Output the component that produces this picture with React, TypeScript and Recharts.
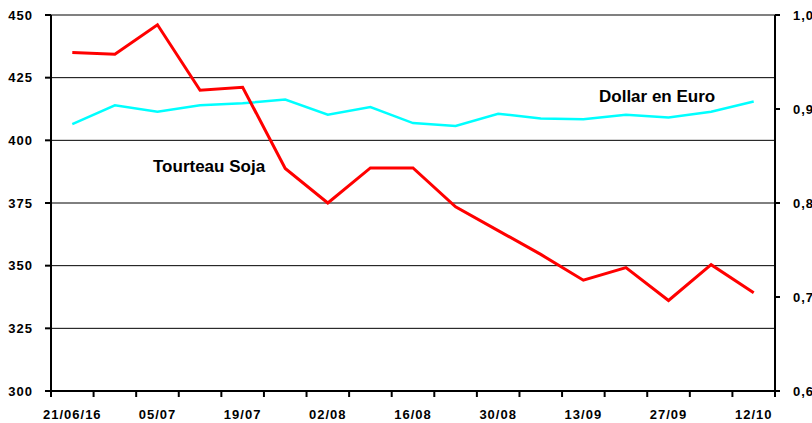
import React from "react";
import {
    ComposedChart,
    Line,
    XAxis,
    YAxis,
    CartesianGrid,
    ReferenceLine,
    Customized,
} from "recharts";

// weekly quotes, only every other date is labelled on the axis
const dates = [
    "21/06/16", "28/06", "05/07", "12/07", "19/07", "26/07", "02/08", "09/08", "16/08",
    "23/08", "30/08", "06/09", "13/09", "20/09", "27/09", "04/10", "12/10",
];
const tourteauSoja = [
    435, 434.3, 446.1, 420, 421.2, 388.8, 375, 389, 389,
    373.5, 364, 354.5, 344.2, 349.2, 336.1, 350.4, 339.2,
];
const dollarEuro = [
    0.884, 0.904, 0.897, 0.904, 0.906, 0.91, 0.894, 0.902, 0.885,
    0.882, 0.895, 0.89, 0.889, 0.894, 0.891, 0.897, 0.908,
];
const leftTicks = [300, 325, 350, 375, 400, 425, 450];
const rightTicks = [0.6, 0.7, 0.8, 0.9, 1.0];

const W = 812;
const H = 423;
const LEFT_W = 51;
const RIGHT_W = 37;
const HALF_BAND = (W - LEFT_W - RIGHT_W) / dates.length / 2;
const FONT = "'Liberation Sans', Arial, sans-serif";

const data = dates.map((d, i) => ({ date: d, soja: tourteauSoja[i], dollar: dollarEuro[i] }));

function DateTick(props: any) {
    const { x, y, payload, index } = props;
    const last = index === dates.length - 1;
    return (
        <g>
            <line x1={x - HALF_BAND} x2={x - HALF_BAND} y1={y} y2={y + 6} stroke="#000" strokeWidth={2} />
            {last && <line x1={x + HALF_BAND} x2={x + HALF_BAND} y1={y} y2={y + 6} stroke="#000" strokeWidth={2} />}
            {index % 2 === 0 && (
                <text
                    x={x}
                    y={y + 28}
                    textAnchor="middle"
                    fill="#000"
                    fontSize={13}
                    fontWeight={700}
                    letterSpacing={1}
                    fontFamily={FONT}
                >
                    {payload.value}
                </text>
            )}
        </g>
    );
}

function SeriesLabels() {
    const style = { fontFamily: FONT, fontSize: 17, fontWeight: 700, fill: "#000" };
    return (
        <g>
            <text x={153} y={172} {...style}>Tourteau Soja</text>
            <text x={599} y={102} {...style}>Dollar en Euro</text>
        </g>
    );
}

export default function App() {
    const tickStyle = { fill: "#000", fontSize: 13, fontWeight: 700, letterSpacing: 1, fontFamily: FONT };
    return (
        <div style={{ position: "absolute", left: 0, top: 0, background: "#fff" }}>
            <ComposedChart
                width={W}
                height={H}
                data={data}
                margin={{ top: 15, right: 0, left: 0, bottom: 0 }}
                style={{ fontFamily: FONT }}
            >
                <CartesianGrid vertical={false} stroke="#000" strokeWidth={1} yAxisId="left" />
                <XAxis
                    dataKey="date"
                    height={32}
                    interval={0}
                    padding={{ left: HALF_BAND, right: HALF_BAND }}
                    tickLine={false}
                    tickSize={0}
                    tickMargin={0}
                    axisLine={{ stroke: "#000", strokeWidth: 2 }}
                    tick={<DateTick />}
                />
                <YAxis
                    yAxisId="left"
                    width={LEFT_W}
                    domain={[300, 450]}
                    ticks={leftTicks}
                    interval={0}
                    tickSize={6}
                    tickMargin={12}
                    axisLine={{ stroke: "#000", strokeWidth: 2 }}
                    tickLine={{ stroke: "#000", strokeWidth: 2 }}
                    tick={tickStyle}
                />
                <YAxis
                    yAxisId="right"
                    orientation="right"
                    width={RIGHT_W}
                    domain={[0.6, 1.0]}
                    ticks={rightTicks}
                    interval={0}
                    tickSize={5}
                    tickMargin={13}
                    axisLine={{ stroke: "#000", strokeWidth: 2 }}
                    tickLine={{ stroke: "#000", strokeWidth: 2 }}
                    tick={tickStyle}
                    tickFormatter={(v: number) => v.toFixed(1).replace(".", ",")}
                />
                <ReferenceLine yAxisId="left" y={450} stroke="#808080" strokeWidth={2} />
                <Line
                    yAxisId="right"
                    type="linear"
                    dataKey="dollar"
                    stroke="#00FFFF"
                    strokeWidth={2.5}
                    dot={false}
                    isAnimationActive={false}
                />
                <Line
                    yAxisId="left"
                    type="linear"
                    dataKey="soja"
                    stroke="#FF0000"
                    strokeWidth={3}
                    dot={false}
                    isAnimationActive={false}
                />
                <Customized component={SeriesLabels} />
            </ComposedChart>
        </div>
    );
}
